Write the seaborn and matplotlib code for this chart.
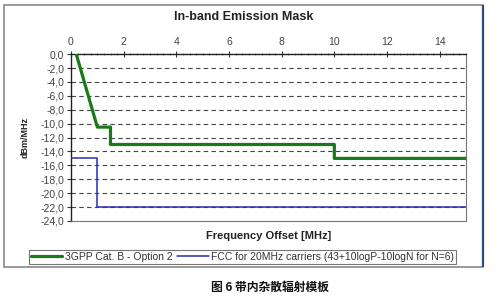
import matplotlib
matplotlib.use("Agg")
import matplotlib.pyplot as plt
import seaborn as sns
import pandas as pd
from matplotlib.patches import Rectangle
from matplotlib.lines import Line2D

# data
cat_b_x = [0.2, 1.0, 1.5, 1.5, 10.0, 10.0, 15.0]
cat_b_y = [0.0, -10.5, -10.5, -13.0, -13.0, -15.0, -15.0]
fcc_x = [0.0, 1.0, 1.0, 15.0]
fcc_y = [-15.0, -15.0, -22.0, -22.0]
series_names = ["3GPP Cat. B - Option 2",
                "FCC for 20MHz carriers (43+10logP-10logN for N=6)"]
x_ticks = [0, 2, 4, 6, 8, 10, 12, 14]
y_ticks = [0, -2, -4, -6, -8, -10, -12, -14, -16, -18, -20, -22, -24]

sns.set_theme(style="white")
plt.rcParams['font.family'] = ['Liberation Sans', 'DejaVu Sans']

fig = plt.figure(figsize=(5.0, 2.99), dpi=100)
ax = fig.add_axes([0.142, 0.261, 0.79, 0.558])

df1 = pd.DataFrame({"x": cat_b_x, "y": cat_b_y})
df2 = pd.DataFrame({"x": fcc_x, "y": fcc_y})
sns.lineplot(data=df1, x="x", y="y", sort=False, estimator=None, ax=ax,
             color="#1a7a1a", linewidth=2.3, zorder=4)
sns.lineplot(data=df2, x="x", y="y", sort=False, estimator=None, ax=ax,
             color="#2b2bb8", linewidth=1.1, zorder=3)

ax.set_xlim(0, 15)
ax.set_ylim(-24, 0)
ax.xaxis.tick_top()
ax.set_xticks(x_ticks)
ax.set_xticks([v * 0.25 for v in range(0, 61)], minor=True)
ax.set_yticks(y_ticks)
ax.set_yticklabels([f"{v:.1f}".replace(".", ",") for v in y_ticks])
ax.tick_params(axis="x", which="major", direction="inout", length=4, width=0.8,
               labelsize=7.5, pad=3, colors="#333333", labelcolor="#444444")
ax.tick_params(axis="x", which="minor", direction="inout", length=2.0, width=0.5,
               colors="#555555", top=True, bottom=False)
ax.tick_params(axis="y", which="major", direction="out", length=3, width=0.8,
               labelsize=7.5, pad=2, colors="#333333", labelcolor="#444444", left=True)
for y in y_ticks[1:-1]:
    ax.axhline(y, color="#444444", linestyle=(0, (4, 3)), linewidth=0.8, zorder=1)
for side in ["left", "top"]:
    ax.spines[side].set_color("#222222")
    ax.spines[side].set_linewidth(1.0)
for side in ["right", "bottom"]:
    ax.spines[side].set_color("#777777")
    ax.spines[side].set_linewidth(0.8)
ax.set_xlabel("")
ax.set_ylabel("")

fig.text(0.487, 0.943, "In-band Emission Mask", ha="center", va="center",
         fontsize=9, fontweight="bold", color="#222222")
fig.text(0.537, 0.212, "Frequency Offset [MHz]", ha="center", va="center",
         fontsize=8, fontweight="bold", color="#222222")
fig.text(0.05, 0.54, "dBm/MHz", ha="center", va="center", rotation=90,
         fontsize=6.5, fontweight="bold", color="#222222")

# legend
handles = [Line2D([], [], color="#1a7a1a", linewidth=2.3),
           Line2D([], [], color="#2b2bb8", linewidth=1.1)]
leg = fig.legend(handles, series_names, loc="center", ncol=2,
                 bbox_to_anchor=(0.485, 0.141), fontsize=7.5, frameon=True,
                 fancybox=False, edgecolor="#555555", handlelength=3.0,
                 handletextpad=0.2, columnspacing=0.5, borderpad=0.2,
                 borderaxespad=0)
leg.get_frame().set_linewidth(0.8)
for t in leg.get_texts():
    t.set_color("#333333")

# outer chart border
fig.add_artist(Rectangle((0.007, 0.107), 0.958, 0.877, transform=fig.transFigure,
                         fill=False, edgecolor="#888888", linewidth=1.2))
fig.add_artist(Line2D([0.966, 0.966], [0.11, 0.98], transform=fig.transFigure,
                      color="#2a4a7a", linewidth=1.6))

fig.text(0.54, 0.04, "图 6 带内杂散辐射模板", ha="center", va="center",
         fontsize=8.5, fontweight="bold", color="#111111",
         family=["Noto Sans CJK SC", "DejaVu Sans"])

fig.savefig("out.png", dpi=100)
